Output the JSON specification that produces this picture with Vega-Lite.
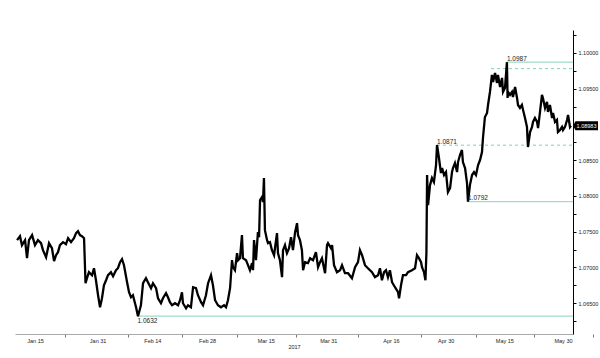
{
  "$schema": "https://vega.github.io/schema/vega-lite/v6.json",
  "width": 558,
  "height": 304,
  "autosize": {"type": "none"},
  "padding": {"left": 15, "top": 30, "right": 27, "bottom": 24},
  "background": "white",
  "config": {"view": {"stroke": null}, "font": "Liberation Sans"},
  "datasets": {
    "price": [
      {"date":"2017-01-10T10:00","price":1.07382},{"date":"2017-01-11T04:00","price":1.07438},{"date":"2017-01-11T16:00","price":1.07312},{"date":"2017-01-12T11:00","price":1.07382},{"date":"2017-01-12T23:00","price":1.0713},{"date":"2017-01-13T11:00","price":1.07382},{"date":"2017-01-14T06:00","price":1.07452},{"date":"2017-01-15T00:00","price":1.07312},{"date":"2017-01-15T18:00","price":1.07382},{"date":"2017-01-16T13:00","price":1.0734},{"date":"2017-01-17T01:00","price":1.07242},{"date":"2017-01-17T20:00","price":1.07144},{"date":"2017-01-18T14:00","price":1.0734},{"date":"2017-01-19T08:00","price":1.0727},{"date":"2017-01-19T21:00","price":1.07088},{"date":"2017-01-20T09:00","price":1.07172},{"date":"2017-01-20T21:00","price":1.07214},{"date":"2017-01-21T09:00","price":1.07312},{"date":"2017-01-22T04:00","price":1.07354},{"date":"2017-01-22T22:00","price":1.07326},{"date":"2017-01-23T11:00","price":1.0741},{"date":"2017-01-24T05:00","price":1.07354},{"date":"2017-01-24T23:00","price":1.0741},{"date":"2017-01-25T12:00","price":1.0748},{"date":"2017-01-26T00:00","price":1.07508},{"date":"2017-01-26T12:00","price":1.07452},{"date":"2017-01-27T00:00","price":1.07438},{"date":"2017-01-27T13:00","price":1.0741},{"date":"2017-01-27T22:00","price":1.0678},{"date":"2017-01-28T07:00","price":1.0685},{"date":"2017-01-28T19:00","price":1.06934},{"date":"2017-01-29T14:00","price":1.06892},{"date":"2017-01-30T02:00","price":1.0699},{"date":"2017-01-30T14:00","price":1.06822},{"date":"2017-01-31T03:00","price":1.06612},{"date":"2017-01-31T15:00","price":1.06444},{"date":"2017-02-01T03:00","price":1.0657},{"date":"2017-02-01T15:00","price":1.06752},{"date":"2017-02-02T04:00","price":1.06822},{"date":"2017-02-02T16:00","price":1.06892},{"date":"2017-02-03T10:00","price":1.06934},{"date":"2017-02-03T23:00","price":1.06878},{"date":"2017-02-04T17:00","price":1.06962},{"date":"2017-02-05T05:00","price":1.0699},{"date":"2017-02-05T18:00","price":1.07074},{"date":"2017-02-06T06:00","price":1.07116},{"date":"2017-02-06T18:00","price":1.07032},{"date":"2017-02-07T13:00","price":1.06794},{"date":"2017-02-08T01:00","price":1.06654},{"date":"2017-02-08T13:00","price":1.06584},{"date":"2017-02-09T01:00","price":1.06612},{"date":"2017-02-09T20:00","price":1.06444},{"date":"2017-02-10T08:00","price":1.06318},{"date":"2017-02-11T02:00","price":1.06472},{"date":"2017-02-11T15:00","price":1.0678},{"date":"2017-02-12T09:00","price":1.0685},{"date":"2017-02-12T21:00","price":1.06794},{"date":"2017-02-13T16:00","price":1.0671},{"date":"2017-02-14T04:00","price":1.0678},{"date":"2017-02-14T23:00","price":1.0671},{"date":"2017-02-15T11:00","price":1.0657},{"date":"2017-02-16T05:00","price":1.065},{"date":"2017-02-16T17:00","price":1.0657},{"date":"2017-02-17T12:00","price":1.0664},{"date":"2017-02-18T00:00","price":1.06584},{"date":"2017-02-18T12:00","price":1.06514},{"date":"2017-02-19T01:00","price":1.06472},{"date":"2017-02-19T19:00","price":1.065},{"date":"2017-02-20T14:00","price":1.06472},{"date":"2017-02-21T02:00","price":1.06542},{"date":"2017-02-21T14:00","price":1.06654},{"date":"2017-02-21T20:00","price":1.065},{"date":"2017-02-22T15:00","price":1.0643},{"date":"2017-02-23T03:00","price":1.06472},{"date":"2017-02-23T21:00","price":1.06444},{"date":"2017-02-24T10:00","price":1.06724},{"date":"2017-02-25T04:00","price":1.0671},{"date":"2017-02-25T16:00","price":1.06612},{"date":"2017-02-26T11:00","price":1.06514},{"date":"2017-02-26T23:00","price":1.06472},{"date":"2017-02-27T17:00","price":1.06612},{"date":"2017-02-28T06:00","price":1.0678},{"date":"2017-03-01T00:00","price":1.06892},{"date":"2017-03-01T12:00","price":1.06752},{"date":"2017-03-02T01:00","price":1.06542},{"date":"2017-03-02T19:00","price":1.06472},{"date":"2017-03-03T13:00","price":1.06444},{"date":"2017-03-04T08:00","price":1.06472},{"date":"2017-03-04T20:00","price":1.06444},{"date":"2017-03-05T08:00","price":1.06542},{"date":"2017-03-05T21:00","price":1.0671},{"date":"2017-03-06T09:00","price":1.07102},{"date":"2017-03-06T15:00","price":1.07004},{"date":"2017-03-07T03:00","price":1.06962},{"date":"2017-03-07T16:00","price":1.072},{"date":"2017-03-07T22:00","price":1.07102},{"date":"2017-03-08T10:00","price":1.0713},{"date":"2017-03-08T22:00","price":1.07452},{"date":"2017-03-09T04:00","price":1.0713},{"date":"2017-03-09T23:00","price":1.07102},{"date":"2017-03-10T11:00","price":1.07032},{"date":"2017-03-10T23:00","price":1.06962},{"date":"2017-03-11T12:00","price":1.0706},{"date":"2017-03-11T18:00","price":1.06962},{"date":"2017-03-12T00:00","price":1.07382},{"date":"2017-03-12T12:00","price":1.07102},{"date":"2017-03-13T00:00","price":1.07494},{"date":"2017-03-13T07:00","price":1.07424},{"date":"2017-03-13T13:00","price":1.07942},{"date":"2017-03-14T01:00","price":1.07984},{"date":"2017-03-14T07:00","price":1.07914},{"date":"2017-03-14T13:00","price":1.0825},{"date":"2017-03-14T19:00","price":1.07522},{"date":"2017-03-15T08:00","price":1.07382},{"date":"2017-03-15T14:00","price":1.0734},{"date":"2017-03-16T02:00","price":1.07354},{"date":"2017-03-16T14:00","price":1.07242},{"date":"2017-03-17T03:00","price":1.07172},{"date":"2017-03-17T21:00","price":1.0748},{"date":"2017-03-18T03:00","price":1.072},{"date":"2017-03-18T15:00","price":1.07102},{"date":"2017-03-19T04:00","price":1.06864},{"date":"2017-03-19T10:00","price":1.07242},{"date":"2017-03-19T22:00","price":1.07312},{"date":"2017-03-20T10:00","price":1.072},{"date":"2017-03-20T23:00","price":1.0727},{"date":"2017-03-21T11:00","price":1.07424},{"date":"2017-03-21T23:00","price":1.07242},{"date":"2017-03-22T12:00","price":1.07494},{"date":"2017-03-23T00:00","price":1.0762},{"date":"2017-03-23T06:00","price":1.07452},{"date":"2017-03-23T18:00","price":1.07382},{"date":"2017-03-24T06:00","price":1.07242},{"date":"2017-03-24T13:00","price":1.06962},{"date":"2017-03-25T01:00","price":1.07074},{"date":"2017-03-25T19:00","price":1.0706},{"date":"2017-03-26T08:00","price":1.0713},{"date":"2017-03-27T02:00","price":1.07102},{"date":"2017-03-27T20:00","price":1.07214},{"date":"2017-03-28T09:00","price":1.07004},{"date":"2017-03-28T21:00","price":1.07074},{"date":"2017-03-29T09:00","price":1.0713},{"date":"2017-03-30T04:00","price":1.0692},{"date":"2017-03-30T16:00","price":1.07312},{"date":"2017-03-30T22:00","price":1.0734},{"date":"2017-03-31T16:00","price":1.0727},{"date":"2017-03-31T23:00","price":1.07312},{"date":"2017-04-01T11:00","price":1.07032},{"date":"2017-04-02T05:00","price":1.06934},{"date":"2017-04-03T00:00","price":1.06962},{"date":"2017-04-03T12:00","price":1.07032},{"date":"2017-04-04T06:00","price":1.0692},{"date":"2017-04-05T01:00","price":1.0692},{"date":"2017-04-06T01:00","price":1.0685},{"date":"2017-04-06T20:00","price":1.07004},{"date":"2017-04-07T14:00","price":1.07074},{"date":"2017-04-08T02:00","price":1.07242},{"date":"2017-04-08T15:00","price":1.07172},{"date":"2017-04-09T09:00","price":1.07032},{"date":"2017-04-10T03:00","price":1.0699},{"date":"2017-04-11T04:00","price":1.06934},{"date":"2017-04-11T22:00","price":1.06864},{"date":"2017-04-12T17:00","price":1.06892},{"date":"2017-04-13T05:00","price":1.0699},{"date":"2017-04-13T17:00","price":1.06822},{"date":"2017-04-14T06:00","price":1.06934},{"date":"2017-04-14T18:00","price":1.06962},{"date":"2017-04-15T06:00","price":1.06864},{"date":"2017-04-15T18:00","price":1.06962},{"date":"2017-04-16T07:00","price":1.06794},{"date":"2017-04-17T01:00","price":1.06724},{"date":"2017-04-17T20:00","price":1.06654},{"date":"2017-04-18T02:00","price":1.0657},{"date":"2017-04-18T14:00","price":1.06752},{"date":"2017-04-19T02:00","price":1.06892},{"date":"2017-04-19T21:00","price":1.06892},{"date":"2017-04-20T09:00","price":1.06934},{"date":"2017-04-21T09:00","price":1.06962},{"date":"2017-04-22T04:00","price":1.0699},{"date":"2017-04-22T16:00","price":1.07172},{"date":"2017-04-23T04:00","price":1.0713},{"date":"2017-04-23T17:00","price":1.07074},{"date":"2017-04-23T23:00","price":1.07004},{"date":"2017-04-24T11:00","price":1.06934},{"date":"2017-04-24T20:00","price":1.06822},{"date":"2017-04-25T02:00","price":1.07214},{"date":"2017-04-25T06:00","price":1.08292},{"date":"2017-04-25T12:00","price":1.07872},{"date":"2017-04-26T00:00","price":1.08152},{"date":"2017-04-26T12:00","price":1.0825},{"date":"2017-04-27T00:00","price":1.08194},{"date":"2017-04-27T13:00","price":1.08432},{"date":"2017-04-27T19:00","price":1.08712},{"date":"2017-04-28T07:00","price":1.0853},{"date":"2017-04-28T19:00","price":1.0832},{"date":"2017-04-29T02:00","price":1.0839},{"date":"2017-04-29T14:00","price":1.08292},{"date":"2017-04-30T02:00","price":1.08334},{"date":"2017-04-30T14:00","price":1.08054},{"date":"2017-05-01T03:00","price":1.0811},{"date":"2017-05-01T15:00","price":1.08334},{"date":"2017-05-01T21:00","price":1.0839},{"date":"2017-05-02T09:00","price":1.0846},{"date":"2017-05-02T22:00","price":1.08334},{"date":"2017-05-03T04:00","price":1.08474},{"date":"2017-05-03T16:00","price":1.08572},{"date":"2017-05-04T04:00","price":1.08642},{"date":"2017-05-04T10:00","price":1.08474},{"date":"2017-05-04T23:00","price":1.0839},{"date":"2017-05-05T11:00","price":1.0818},{"date":"2017-05-05T17:00","price":1.0792},{"date":"2017-05-06T05:00","price":1.08152},{"date":"2017-05-06T18:00","price":1.08292},{"date":"2017-05-07T06:00","price":1.08334},{"date":"2017-05-07T18:00","price":1.08292},{"date":"2017-05-08T07:00","price":1.08432},{"date":"2017-05-08T19:00","price":1.08502},{"date":"2017-05-09T07:00","price":1.08614},{"date":"2017-05-09T13:00","price":1.0881},{"date":"2017-05-10T01:00","price":1.09104},{"date":"2017-05-10T14:00","price":1.0916},{"date":"2017-05-10T20:00","price":1.09272},{"date":"2017-05-11T08:00","price":1.09454},{"date":"2017-05-11T20:00","price":1.09692},{"date":"2017-05-12T03:00","price":1.09594},{"date":"2017-05-12T15:00","price":1.0972},{"date":"2017-05-13T03:00","price":1.0958},{"date":"2017-05-13T09:00","price":1.09692},{"date":"2017-05-13T22:00","price":1.09524},{"date":"2017-05-14T10:00","price":1.0965},{"date":"2017-05-14T16:00","price":1.09454},{"date":"2017-05-15T04:00","price":1.0951},{"date":"2017-05-15T16:00","price":1.0987},{"date":"2017-05-15T20:00","price":1.0937},{"date":"2017-05-15T23:00","price":1.09454},{"date":"2017-05-16T11:00","price":1.09412},{"date":"2017-05-16T23:00","price":1.09454},{"date":"2017-05-17T05:00","price":1.09384},{"date":"2017-05-17T18:00","price":1.09524},{"date":"2017-05-18T06:00","price":1.0937},{"date":"2017-05-18T12:00","price":1.09272},{"date":"2017-05-19T00:00","price":1.0923},{"date":"2017-05-19T12:00","price":1.09272},{"date":"2017-05-19T19:00","price":1.09202},{"date":"2017-05-20T07:00","price":1.0909},{"date":"2017-05-20T19:00","price":1.08964},{"date":"2017-05-21T01:00","price":1.08684},{"date":"2017-05-21T14:00","price":1.08894},{"date":"2017-05-22T02:00","price":1.08964},{"date":"2017-05-22T08:00","price":1.09034},{"date":"2017-05-22T20:00","price":1.0909},{"date":"2017-05-23T09:00","price":1.09034},{"date":"2017-05-23T15:00","price":1.0895},{"date":"2017-05-24T03:00","price":1.09174},{"date":"2017-05-24T15:00","price":1.09412},{"date":"2017-05-24T21:00","price":1.0937},{"date":"2017-05-25T10:00","price":1.0923},{"date":"2017-05-25T22:00","price":1.09314},{"date":"2017-05-26T04:00","price":1.09174},{"date":"2017-05-26T16:00","price":1.09272},{"date":"2017-05-27T05:00","price":1.0909},{"date":"2017-05-27T11:00","price":1.0916},{"date":"2017-05-27T23:00","price":1.09034},{"date":"2017-05-28T11:00","price":1.09062},{"date":"2017-05-28T17:00","price":1.08894},{"date":"2017-05-29T06:00","price":1.08922},{"date":"2017-05-29T18:00","price":1.08964},{"date":"2017-05-30T00:00","price":1.08922},{"date":"2017-05-30T12:00","price":1.08964},{"date":"2017-05-31T01:00","price":1.09062},{"date":"2017-05-31T07:00","price":1.09132},{"date":"2017-05-31T19:00","price":1.08964},{"date":"2017-06-01T01:00","price":1.08983}
    ],
    "levels": [
      {"date":"2017-05-15T16:00","price":1.0987,"label":"1.0987"},
      {"date":"2017-05-05T17:00","price":1.0792,"label":"1.0792"},
      {"date":"2017-02-10T05:00","price":1.0632,"label":"1.0632"}
    ],
    "guides": [
      {"date":"2017-05-11T14:00","price":1.0978},
      {"date":"2017-04-27T19:00","price":1.0871,"label":"1.0871"}
    ],
    "last": [
      {"date":"2017-06-01T13:26","price":1.08983,"label":"1.08983"}
    ]
  },
  "encoding": {
    "x": {
      "field": "date", "type": "temporal",
      "scale": {"domain": [{"year":2017,"month":1,"date":9,"hours":21,"minutes":16},{"year":2017,"month":6,"date":1,"hours":13,"minutes":26}]},
      "axis": {
        "title": "2017",
        "values": [{"year":2017,"month":1,"date":15},{"year":2017,"month":1,"date":31},{"year":2017,"month":2,"date":14},{"year":2017,"month":2,"date":28},{"year":2017,"month":3,"date":15},{"year":2017,"month":3,"date":31},{"year":2017,"month":4,"date":16},{"year":2017,"month":4,"date":30},{"year":2017,"month":5,"date":15},{"year":2017,"month":5,"date":30}],
        "format": "%b %d",
        "labelFontSize": 5.5, "labelColor": "#222", "labelPadding": 1, "labelFlush": false, "labelOverlap": false,
        "tickOffset": 30, "labelOffset": -30, "tickSize": 3, "tickColor": "#777", "domainColor": "#aaa",
        "titleFontSize": 5.5, "titleFontWeight": "normal", "titleColor": "#222", "titlePadding": 1,
        "grid": false
      }
    },
    "y": {
      "field": "price", "type": "quantitative",
      "scale": {"domain": [1.0607, 1.1032], "zero": false, "nice": false},
      "axis": {
        "orient": "right", "title": null, "grid": false,
        "values": [1.0625,1.065,1.0675,1.07,1.0725,1.075,1.0775,1.08,1.0825,1.085,1.0875,1.09,1.0925,1.095,1.0975,1.1,1.1025],
        "labelExpr": "(round(datum.value*10000) % 50 == 0 && round(datum.value*10000) != 10900) ? format(datum.value, '.5f') : ''",
        "labelFontSize": 5.5, "labelColor": "#222", "labelPadding": 2,
        "tickSize": 3, "tickColor": "black", "domainColor": "black"
      }
    }
  },
  "layer": [
    {"data": {"name": "levels"}, "mark": {"type": "rule", "color": "#9edcc7", "strokeWidth": 1.3},
     "encoding": {"x2": {"datum": {"year":2017,"month":6,"date":1,"hours":13,"minutes":26}}}},
    {"data": {"name": "guides"}, "mark": {"type": "rule", "color": "#7fd0b6", "strokeWidth": 1, "strokeDash": [3, 3]},
     "encoding": {"x2": {"datum": {"year":2017,"month":6,"date":1,"hours":13,"minutes":26}}}},
    {"data": {"name": "price"}, "mark": {"type": "line", "color": "black", "strokeWidth": 2.3, "strokeJoin": "miter"}},
    {"data": {"name": "levels"}, "transform": [{"filter": "datum.price > 1.065"}],
     "mark": {"type": "text", "align": "left", "baseline": "alphabetic", "dy": -1.5, "fontSize": 6.5, "color": "#222"},
     "encoding": {"text": {"field": "label"}}},
    {"data": {"name": "levels"}, "transform": [{"filter": "datum.price < 1.065"}],
     "mark": {"type": "text", "align": "left", "baseline": "top", "dy": 2, "fontSize": 6.5, "color": "#222"},
     "encoding": {"text": {"field": "label"}}},
    {"data": {"name": "guides"}, "transform": [{"filter": "isValid(datum.label)"}],
     "mark": {"type": "text", "align": "left", "baseline": "alphabetic", "dy": -1.5, "fontSize": 6.5, "color": "#222"},
     "encoding": {"text": {"field": "label"}}},
    {"data": {"name": "last"},
     "mark": {"type": "point", "shape": "M-1,0L-0.8,-0.36L1,-0.36L1,0.36L-0.8,0.36Z", "size": 625, "filled": true, "color": "black", "opacity": 1, "xOffset": 12.5}},
    {"data": {"name": "last"},
     "mark": {"type": "text", "color": "white", "fontSize": 5.5, "align": "center", "baseline": "middle", "dx": 13.5},
     "encoding": {"text": {"field": "label"}}}
  ]
}
